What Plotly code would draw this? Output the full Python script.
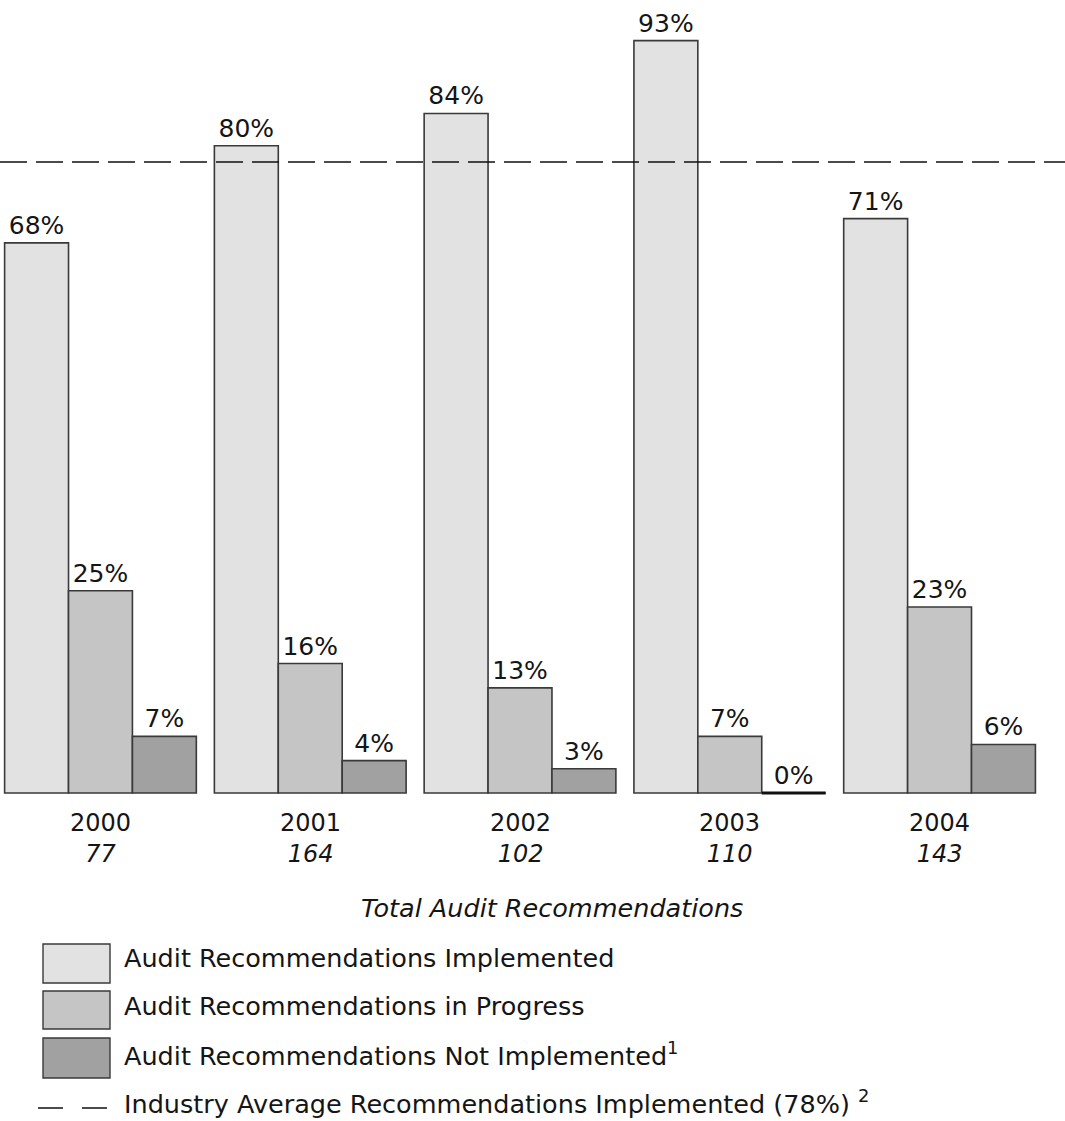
import plotly.graph_objects as go

# --- data -------------------------------------------------------------
years = ["2000", "2001", "2002", "2003", "2004"]
totals = ["77", "164", "102", "110", "143"]
implemented = [68, 80, 84, 93, 71]
in_progress = [25, 16, 13, 7, 23]
not_implemented = [7, 4, 3, 0, 6]
industry_avg = 78

series_names = [
    "Audit Recommendations Implemented",
    "Audit Recommendations in Progress",
    "Audit Recommendations Not Implemented<sup>1</sup>",
]
line_name = "Industry Average Recommendations Implemented (78%) <sup>2</sup>"
axis_title = "Total Audit Recommendations"

# --- styling ----------------------------------------------------------
W, H = 1065, 1121
FONT = "DejaVu Sans"
TXT = "#151515"
fills = ["#e1e2e1", "#c4c5c4", "#a0a1a0"]
edge = "#3a3a3a"
BARGAP = 0.086
LEG_SIZE = 25.5
Y_MIN = -0.5          # a little room below zero so baseline rules are not clipped
PX_PER_PCT = 8.09
BASE_PX = 793         # pixel row of the 0% baseline


def px(x):
    return x / W


def py(y):
    return 1 - y / H


pos = list(range(len(years)))
n_series = 3
bar_w = (1 - BARGAP) / n_series

fig = go.Figure()
all_series = [implemented, in_progress, not_implemented]
for k, (name, vals, col) in enumerate(zip(series_names, all_series, fills)):
    fig.add_trace(go.Bar(
        x=pos, y=vals, name=name,
        marker=dict(color=col, line=dict(color=edge, width=1.6)),
        text=[f"{v}%" for v in vals], textposition="outside",
        textfont=dict(family=FONT, size=25, color=TXT),
        cliponaxis=False, showlegend=False,
    ))
    # zero-height bars are drawn as a heavy rule on the baseline
    off = (k - (n_series - 1) / 2) * bar_w
    for i, v in zip(pos, vals):
        if v == 0:
            fig.add_trace(go.Scatter(
                x=[i + off - bar_w / 2, i + off + bar_w / 2], y=[v, v],
                mode="lines", line=dict(color="#111", width=3),
                hoverinfo="skip", showlegend=False, cliponaxis=False,
            ))

# industry average reference line
fig.add_shape(type="line", xref="paper", yref="y", x0=0, x1=1,
              y0=industry_avg, y1=industry_avg,
              line=dict(color="#111", width=1.5, dash="27px,9px"))

annotations = []
# year and total labels under each group
for i, yr, tot in zip(pos, years, totals):
    annotations.append(dict(x=i, xref="x", y=py(838), yref="paper",
                            text=f"{yr}<br><i>{tot}</i>",
                            showarrow=False, font=dict(family=FONT, size=24, color=TXT),
                            yanchor="middle"))
annotations.append(dict(x=px(552), xref="paper", y=py(908), yref="paper",
                        text=f"<i>{axis_title}</i>", showarrow=False,
                        font=dict(family=FONT, size=LEG_SIZE, color=TXT), yanchor="middle"))

# legend: swatches and captions
rows = [(944, 983), (991, 1029), (1038, 1078)]
text_y = [958, 1006, 1054]
for (y0, y1), ty, col, name in zip(rows, text_y, fills, series_names):
    fig.add_shape(type="rect", xref="paper", yref="paper",
                  x0=px(43), x1=px(110), y0=py(y1), y1=py(y0),
                  fillcolor=col, line=dict(color=edge, width=1.4))
    annotations.append(dict(x=px(122), xref="paper", y=py(ty), yref="paper",
                            text=name, showarrow=False, xanchor="left", yanchor="middle",
                            font=dict(family=FONT, size=LEG_SIZE, color=TXT)))
fig.add_shape(type="line", xref="paper", yref="paper", x0=px(38), x1=px(108),
              y0=py(1108), y1=py(1108),
              line=dict(color="#111", width=1.3, dash="25px,19px"))
annotations.append(dict(x=px(122), xref="paper", y=py(1102), yref="paper",
                        text=line_name, showarrow=False, xanchor="left", yanchor="middle",
                        font=dict(family=FONT, size=LEG_SIZE, color=TXT)))

# y scale: 0% at pixel 793, ~8.09 px per percentage point, top edge of page at ~98%
bottom_px = BASE_PX - Y_MIN * PX_PER_PCT
fig.update_layout(
    width=W, height=H, margin=dict(l=0, r=0, t=0, b=0),
    paper_bgcolor="white", plot_bgcolor="white",
    barmode="group", bargap=BARGAP, bargroupgap=0,
    annotations=annotations, showlegend=False,
    font=dict(family=FONT),
    xaxis=dict(type="linear", range=[-0.479, 4.598], showticklabels=False, showgrid=False,
               zeroline=False, showline=False, ticks=""),
    yaxis=dict(range=[Y_MIN, BASE_PX / PX_PER_PCT], domain=[1 - bottom_px / H, 1],
               showticklabels=False, showgrid=False, zeroline=False, showline=False, ticks=""),
)

fig.write_html("out.html")
